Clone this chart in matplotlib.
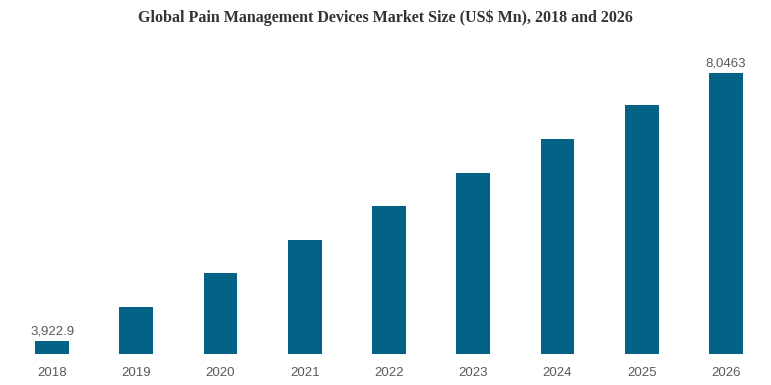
import matplotlib.pyplot as plt

years = ["2018", "2019", "2020", "2021", "2022", "2023", "2024", "2025", "2026"]
market_size = [3922.9, 4446, 4969, 5477, 6000, 6508, 7031, 7554, 8046.3]
value_labels = {0: "3,922.9", 8: "8,0463"}

plt.rcParams["font.family"] = ["Liberation Sans", "DejaVu Sans"]

W, H = 771, 385
fig = plt.figure(figsize=(W / 100, H / 100), dpi=100)
ax = fig.add_axes([10 / W, 31 / H, 758 / W, 294 / H])

x = list(range(len(years)))
bars = ax.bar(x, market_size, width=0.4, color="#036285")
ax.set_xlim(-0.5, len(years) - 0.5)
ax.set_ylim(3722.8, 8246)

for i, txt in value_labels.items():
    ax.text(i, market_size[i] + 50, txt, ha="center", va="bottom",
            fontsize=9.5, color="#595959")

ax.set_xticks(x)
ax.set_xticklabels(years, fontsize=9.5, color="#595959")
ax.tick_params(axis="x", length=0, pad=9)
ax.set_yticks([])
for s in ax.spines.values():
    s.set_visible(False)

fig.text(0.5, 1 - 18 / H, "Global Pain Management Devices Market Size (US$ Mn), 2018 and 2026",
         ha="center", va="center", fontsize=11.5, fontweight="bold",
         family="Liberation Serif", color="#333333")

fig.savefig("out.png", dpi=100)
